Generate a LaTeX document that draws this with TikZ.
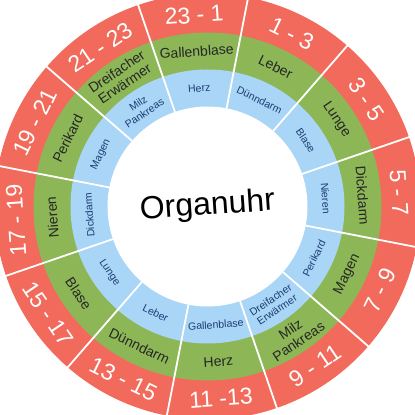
\documentclass[tikz,border=0pt]{standalone}
\usepackage{fontspec}
\setmainfont{Liberation Sans}
\usepackage{xcolor}
\usepackage{tikz}

\definecolor{clockred}{HTML}{F26A5B}
\definecolor{clockgreen}{HTML}{8DB757}
\definecolor{clockblue}{HTML}{A9D5F6}
\definecolor{clocknavy}{HTML}{1E3C72}

\begin{document}
\begin{tikzpicture}[x=1pt, y=1pt,
    timelabel/.style={text=white, font=\fontsize{23}{24}\selectfont, inner sep=0pt},
    organlabel/.style={text=black!85, font=\fontsize{14}{14.5}\selectfont, align=center, inner sep=0pt},
    innerlabel/.style={text=clocknavy, font=\fontsize{10.5}{11.5}\selectfont, align=center, inner sep=0pt}]
  \useasboundingbox (0,0) rectangle (415,415);
  \clip (0,0) rectangle (415,415);
  \begin{scope}[shift={(207.5,208.5)}]
    % rings
    \fill[clockred] (0,0) circle (213);
    \fill[clockgreen] (0,0) circle (174);
    \fill[clockblue] (0,0) circle (137);
    \foreach \a in {19,49,...,349}
      \draw[white, line width=1.8pt] (\a:100) -- (\a:225);
    \fill[white] (0,0) circle (100);
    \node[font=\fontsize{32}{34}\selectfont, rotate=4] (title) at (0,0) {Organuhr};
    % segments: angle / time / organ / opposite organ
    \foreach \a/\t/\o/\p [count=\i] in {
        94/{23 - 1}/{Gallenblase}/{Herz},
        64/{1 - 3}/{Leber}/{Dünndarm},
        34/{3 - 5}/{Lunge}/{Blase},
        4/{5 - 7}/{Dickdarm}/{Nieren},
        -26/{7 - 9}/{Magen}/{Perikard},
        -56/{9 - 11}/{Milz\\Pankreas}/{Dreifacher\\Erwärmer},
        -86/{11 -13}/{Herz}/{Gallenblase},
        -116/{13 - 15}/{Dünndarm}/{Leber},
        -146/{15 - 17}/{Blase}/{Lunge},
        -176/{17 - 19}/{Nieren}/{Dickdarm},
        154/{19 - 21}/{Perikard}/{Magen},
        124/{21 - 23}/{Dreifacher\\Erwärmer}/{Milz\\Pankreas}}
    {
      \pgfmathsetmacro\r{sin(\a) < -0.2 ? \a+90 : \a-90}
      \node[timelabel, rotate=\r] (t\i) at (\a:192) {\t};
      \node[organlabel, rotate=\r] (o\i) at (\a:155.5) {\o};
      \node[innerlabel, rotate=\r] (p\i) at (\a:118.5) {\p};
    }
  \end{scope}
\end{tikzpicture}
\end{document}
